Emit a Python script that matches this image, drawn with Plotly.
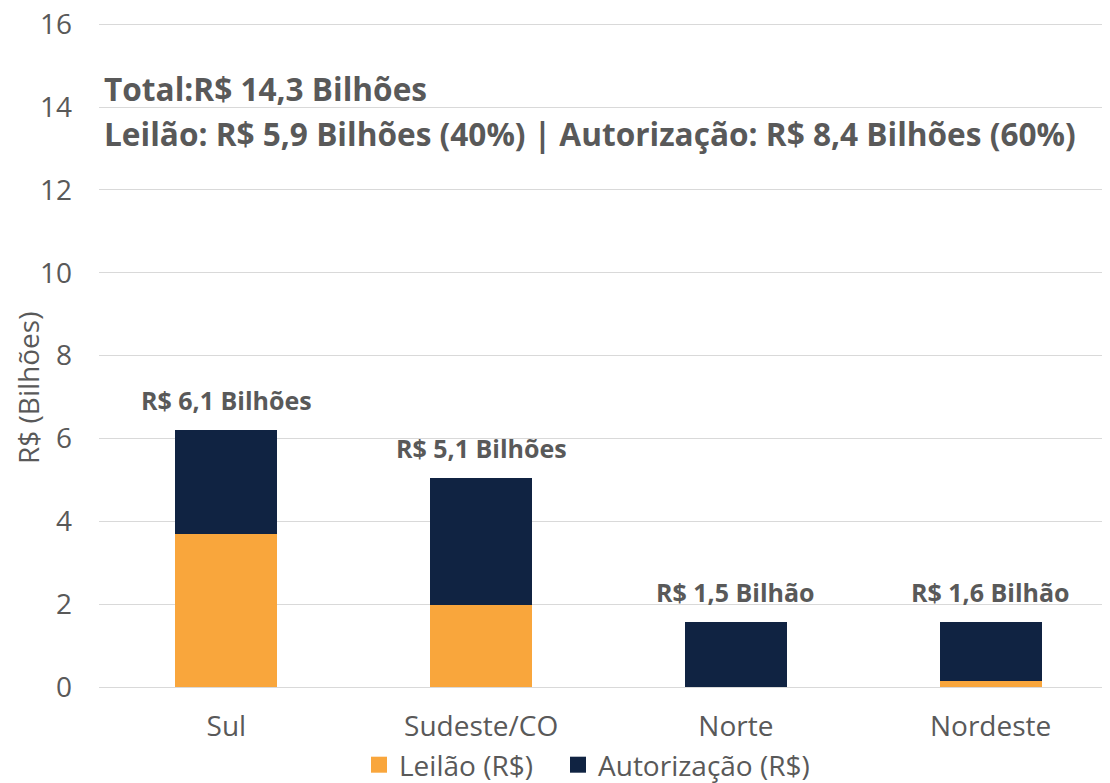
import plotly.graph_objects as go

regioes = ["Sul", "Sudeste/CO", "Norte", "Nordeste"]
leilao = [3.7, 1.97, 0.0, 0.15]
autorizacao = [2.5, 3.08, 1.57, 1.43]
rotulos_total = ["R$ 6,1 Bilhões", "R$ 5,1 Bilhões", "R$ 1,5 Bilhão", "R$ 1,6 Bilhão"]
series_nomes = ["Leilão (R$)", "Autorização (R$)"]
titulo_1 = "Total:R$ 14,3 Bilhões"
titulo_2 = "Leilão: R$ 5,9 Bilhões (40%) | Autorização: R$ 8,4 Bilhões (60%)"
titulo_y = "R$ (Bilhões)"
y_ticks = [0, 2, 4, 6, 8, 10, 12, 14, 16]
y_max = 16.1

ORANGE = "#F9A63C"
NAVY = "#102342"
GREY = "#595959"
FONT = "Open Sans"

# page body has an 8px default margin: figure coords = screen coords - 8
W, H = 1110, 775
L, T, B = 91, 12, 96
PH = H - T - B
PW = W - L


def py(screen_y):
    return (H - B - (screen_y - 8)) / PH


def px(screen_x):
    return (screen_x - 8 - L) / PW


fig = go.Figure()
fig.add_trace(go.Bar(x=regioes, y=leilao, name=series_nomes[0], showlegend=False,
                     marker=dict(color=ORANGE, line=dict(width=0)), width=0.4))
fig.add_trace(go.Bar(x=regioes, y=autorizacao, name=series_nomes[1], showlegend=False,
                     marker=dict(color=NAVY, line=dict(width=0)), width=0.4))
# legend entries with larger square symbols, one legend box each
for nome, cor, leg in zip(series_nomes, [ORANGE, NAVY], ["legend", "legend2"]):
    fig.add_trace(go.Scatter(x=[None], y=[None], mode="markers", name=nome, legend=leg,
                             marker=dict(symbol="square", size=18, color=cor), hoverinfo="skip"))

totais = [a + b for a, b in zip(leilao, autorizacao)]
for reg, tot, lab in zip(regioes, totais, rotulos_total):
    fig.add_annotation(x=reg, y=tot, text=f"<b>{lab}</b>", showarrow=False,
                       yanchor="bottom", yshift=11,
                       font=dict(family=FONT, size=25, color=GREY))

fig.add_annotation(xref="paper", yref="paper", x=px(102), y=py(88), xanchor="left", yanchor="middle",
                   text=f"<b>{titulo_1}</b>", showarrow=False, font=dict(family=FONT, size=31.6, color=GREY))
fig.add_annotation(xref="paper", yref="paper", x=px(102), y=py(133), xanchor="left", yanchor="middle",
                   text=f"<b>{titulo_2}</b>", showarrow=False, font=dict(family=FONT, size=31.6, color=GREY))
fig.add_annotation(xref="paper", yref="paper", x=px(28), y=py(388), xanchor="center", yanchor="middle",
                   text=titulo_y, textangle=-90, showarrow=False, font=dict(family=FONT, size=28, color=GREY))

leg_common = dict(orientation="h", xanchor="left", yanchor="middle", y=py(765),
                  font=dict(family=FONT, size=28, color=GREY), itemsizing="trace", itemwidth=30,
                  bgcolor="rgba(0,0,0,0)")

fig.update_layout(
    width=W, height=H,
    margin=dict(l=L, r=0, t=T, b=B, autoexpand=False),
    barmode="stack",
    plot_bgcolor="white", paper_bgcolor="white",
    font=dict(family=FONT, color=GREY),
    showlegend=True,
    legend=dict(x=px(359), **leg_common),
    legend2=dict(x=px(558), **leg_common),
    xaxis=dict(tickfont=dict(family=FONT, size=28, color=GREY), showline=False, ticks="",
               ticklabelstandoff=20, automargin=False),
    yaxis=dict(range=[0, y_max], tickvals=y_ticks, showgrid=True, gridcolor="#D9D9D9", gridwidth=1,
               zeroline=True, zerolinecolor="#D9D9D9", zerolinewidth=1, automargin=False,
               ticklabeloverflow="allow",
               tickfont=dict(family=FONT, size=28, color=GREY), ticks="", ticklabelstandoff=26),
)

fig.write_html("out.html")
